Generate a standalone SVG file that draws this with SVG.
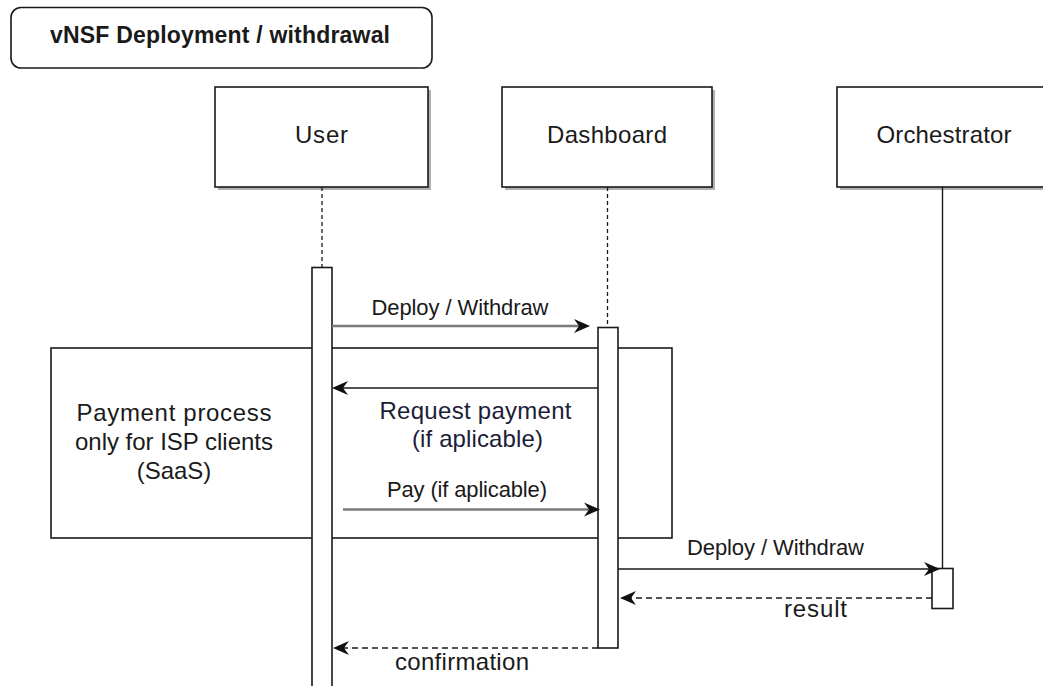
<svg xmlns="http://www.w3.org/2000/svg" width="1043" height="686" viewBox="0 0 1043 686">
  <style>
    text { font-family: "Liberation Sans", Arial, sans-serif; fill: #1a1a1a; }
    .title { font-size: 23px; font-weight: bold; text-anchor: middle; }
    .node { fill: #ffffff; stroke: #1a1a1a; stroke-width: 1.6; }
    .shadow { fill: #b0b0b0; }
    .label { font-size: 24px; text-anchor: middle; }
    .msg { font-size: 22px; text-anchor: middle; }
    .life { stroke: #1a1a1a; stroke-width: 1.3; fill: none; stroke-dasharray: 4 3; }
    .solid { stroke: #1a1a1a; stroke-width: 1.4; fill: none; }
    .act { fill: #ffffff; stroke: #1a1a1a; stroke-width: 1.6; }
    .call { stroke: #7a7a7a; stroke-width: 2.6; fill: none; }
    .line { stroke: #1a1a1a; stroke-width: 1.6; fill: none; }
    .ret { stroke: #1a1a1a; stroke-width: 1.6; fill: none; stroke-dasharray: 6 4; }
  </style>
  <defs>
    <marker id="arrow" markerUnits="userSpaceOnUse" markerWidth="16" markerHeight="14" refX="5" refY="7" orient="auto" overflow="visible">
      <path d="M0,0 L16,7 L0,14 L5,7 Z" fill="#111111"/>
    </marker>
  </defs>

  <!-- diagram title -->
  <g id="title">
    <rect x="11" y="7.5" width="421" height="60.5" rx="10" ry="10" class="node"/>
    <text x="220" y="43" class="title" textLength="340">vNSF Deployment / withdrawal</text>
  </g>

  <!-- participants -->
  <g id="user">
    <rect x="218" y="90" width="213" height="100" class="shadow"/>
    <rect x="215" y="87" width="213" height="100" class="node"/>
    <text x="321.5" y="143" class="label" textLength="53">User</text>
  </g>
  <g id="dashboard">
    <rect x="505" y="90" width="210" height="100" class="shadow"/>
    <rect x="502" y="87" width="210" height="100" class="node"/>
    <text x="607" y="143" class="label" textLength="120">Dashboard</text>
  </g>
  <g id="orchestrator">
    <rect x="840" y="90" width="214" height="100" class="shadow"/>
    <rect x="837" y="87" width="214" height="100" class="node"/>
    <text x="944" y="143" class="label" textLength="135">Orchestrator</text>
  </g>

  <!-- lifelines -->
  <g id="lifelines">
    <line x1="322" y1="187" x2="322" y2="267" class="life"/>
    <line x1="607.5" y1="187" x2="607.5" y2="327" class="life"/>
    <line x1="942.5" y1="187" x2="942.5" y2="568" class="solid"/>
  </g>

  <!-- payment fragment -->
  <g id="payment-fragment">
    <rect x="51" y="348" width="621" height="190" fill="#ffffff" stroke="#1a1a1a" stroke-width="1.6"/>
    <text class="label" x="174" y="421" textLength="195">Payment process</text>
    <text class="label" x="174" y="450" textLength="198">only for ISP clients</text>
    <text class="label" x="174" y="479">(SaaS)</text>
  </g>

  <!-- activation bars -->
  <g id="activations">
    <rect id="user-activation" x="312" y="267.5" width="20" height="440" class="act"/>
    <rect id="dashboard-activation" x="598" y="327.5" width="20" height="320.5" class="act"/>
    <rect id="orchestrator-activation" x="932" y="568.5" width="21" height="40" class="act"/>
  </g>

  <!-- messages -->
  <g id="connectors">
    <line x1="332" y1="326" x2="579" y2="326" class="call" marker-end="url(#arrow)"/>
    <line x1="598" y1="388" x2="343" y2="388" class="line" marker-end="url(#arrow)"/>
    <line x1="343" y1="509.5" x2="589" y2="509.5" class="call" marker-end="url(#arrow)"/>
    <line x1="618" y1="569" x2="929" y2="569" class="line" marker-end="url(#arrow)"/>
    <line x1="932" y1="598" x2="631" y2="598" class="ret" marker-end="url(#arrow)"/>
    <line x1="598" y1="648" x2="344" y2="648" class="ret" marker-end="url(#arrow)"/>
  </g>

  <!-- message labels -->
  <g id="message-labels">
    <text class="msg" x="460" y="315" textLength="177">Deploy / Withdraw</text>
    <text class="label" x="475.5" y="419" textLength="192" style="fill:#1c1c38">Request payment</text>
    <text class="label" x="477.5" y="447" textLength="131" style="fill:#1c1c38">(if aplicable)</text>
    <text class="msg" x="467" y="497" textLength="160">Pay (if aplicable)</text>
    <text class="msg" x="775.5" y="555" textLength="177">Deploy / Withdraw</text>
    <text class="label" x="815.5" y="617" textLength="63">result</text>
    <text class="label" x="462" y="670" textLength="134">confirmation</text>
  </g>
</svg>
